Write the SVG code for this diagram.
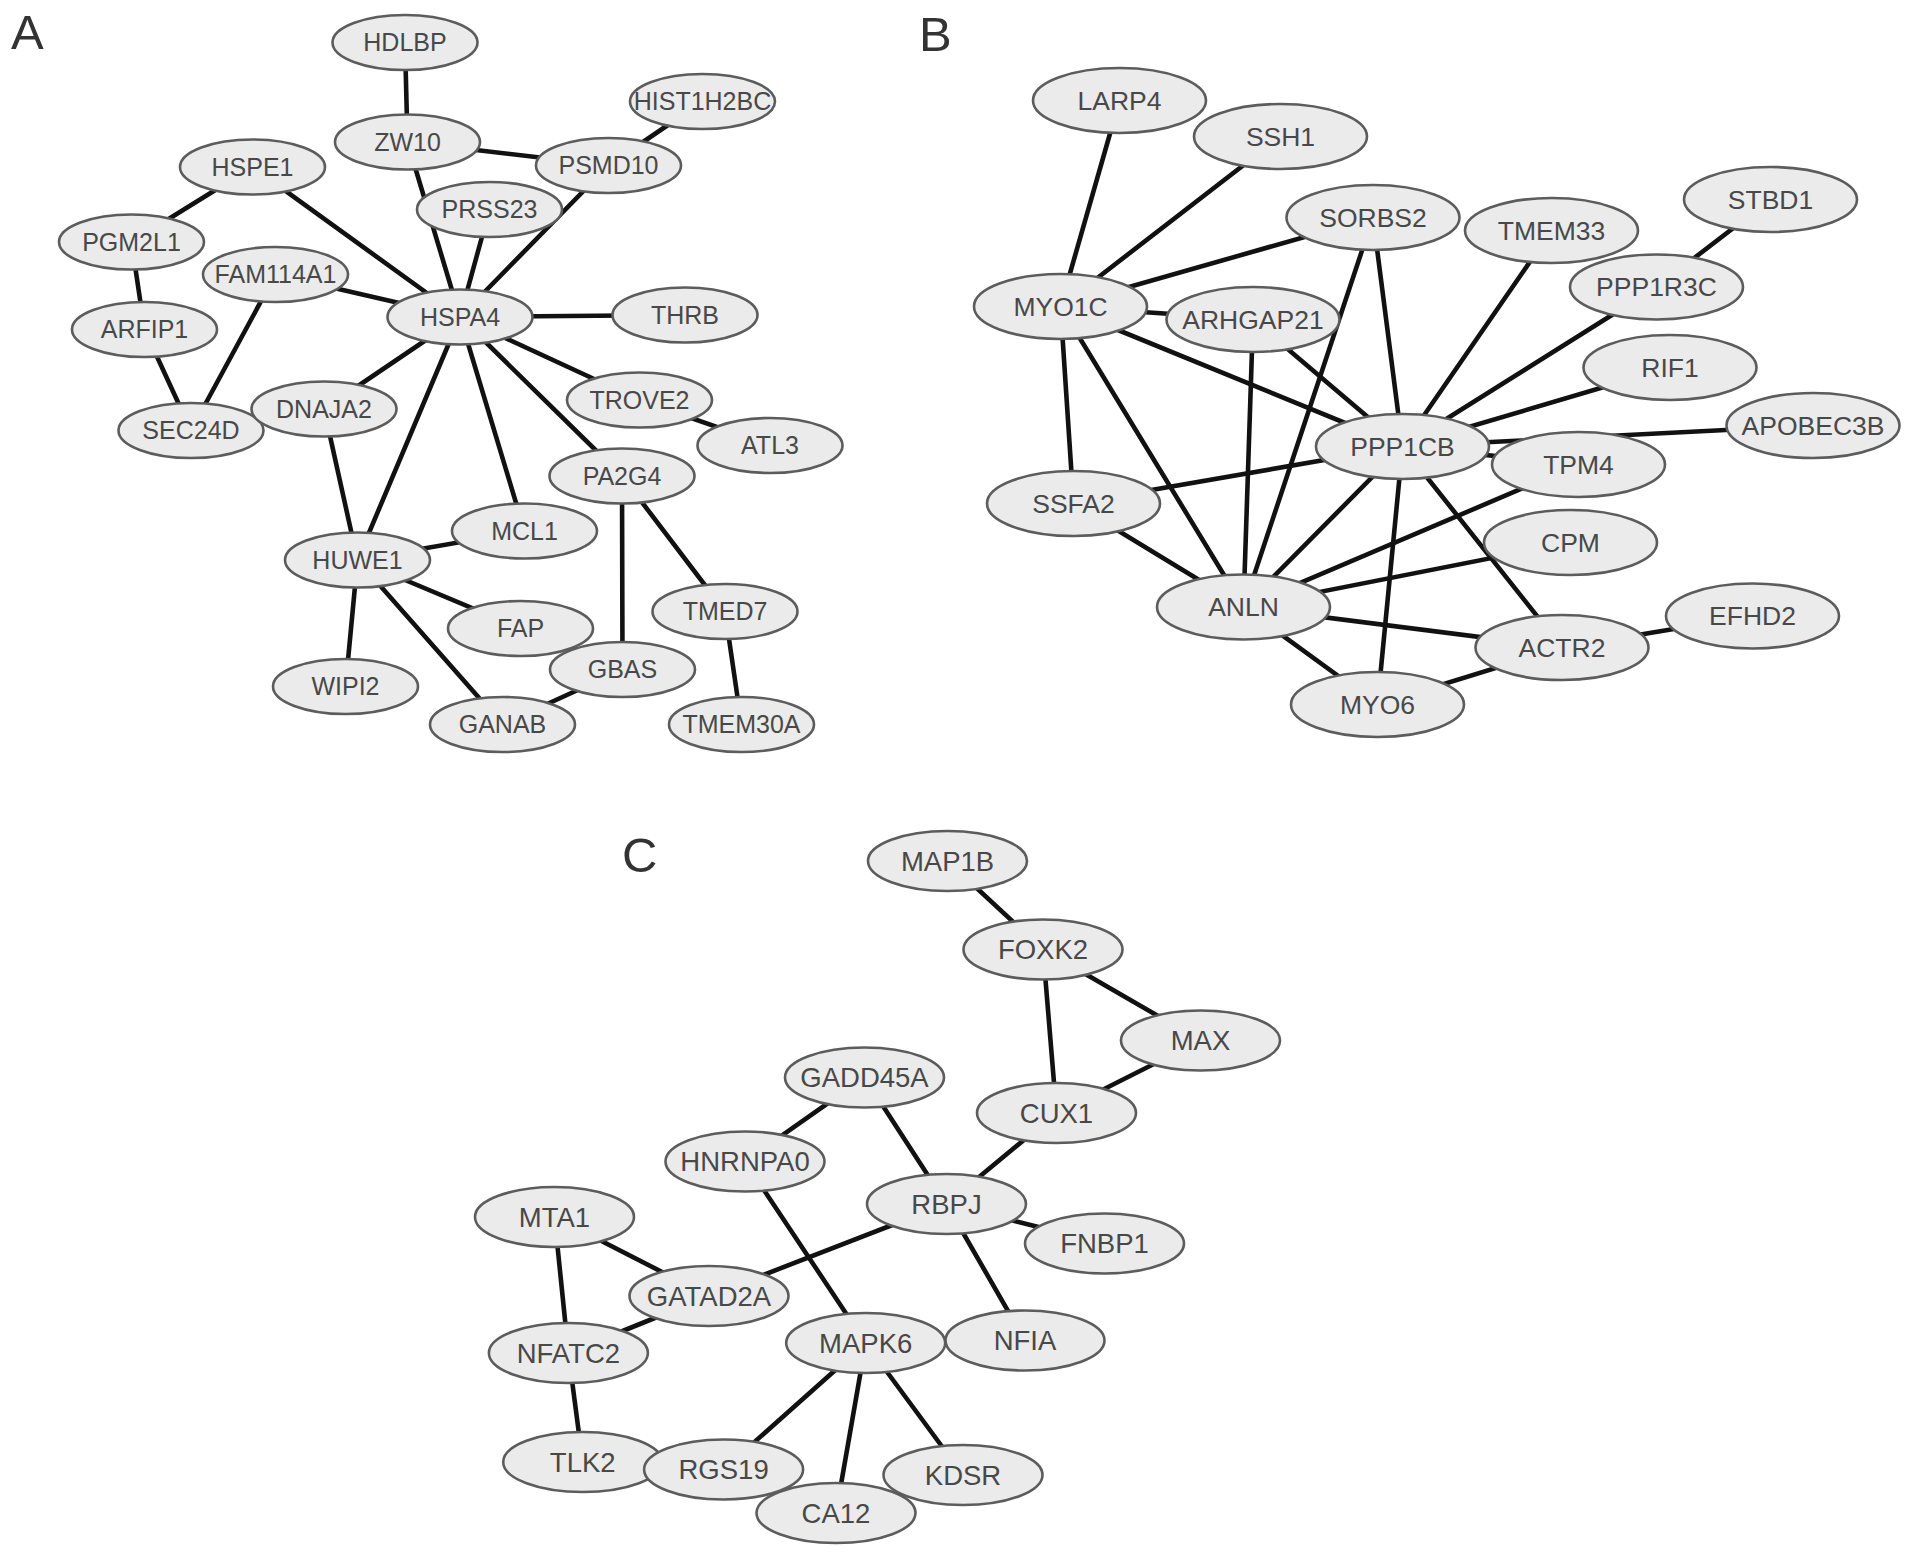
<svg xmlns="http://www.w3.org/2000/svg" width="1913" height="1558" viewBox="0 0 1913 1558">
<style>
.bg{fill:#ffffff}
.e line{stroke:#111111;stroke-width:4.6;stroke-linecap:round}
.n ellipse{fill:#ebebeb;stroke:#5c5c5c;stroke-width:2.6}
.n text{font-family:"Liberation Sans",Arial,sans-serif;fill:#484848;text-anchor:middle}
.a text{font-size:25px}
.b text{font-size:26.5px}
.c text{font-size:27.5px}
.lbl{font-family:"Liberation Sans",Arial,sans-serif;fill:#333333;font-size:49px}
</style>
<rect class="bg" x="0" y="0" width="1913" height="1558"/>
<text class="lbl" x="11" y="49">A</text>
<text class="lbl" x="919" y="51">B</text>
<text class="lbl" x="622" y="872">C</text>

<g id="connectors" class="e">
<!-- Panel A -->
<line x1="405" y1="42.5" x2="407.5" y2="142"/>
<line x1="407.5" y1="142" x2="608.5" y2="165.5"/>
<line x1="407.5" y1="142" x2="460" y2="317"/>
<line x1="608.5" y1="165.5" x2="702.5" y2="101.5"/>
<line x1="608.5" y1="165.5" x2="460" y2="317"/>
<line x1="489.5" y1="209.5" x2="460" y2="317"/>
<line x1="252.5" y1="167" x2="131.5" y2="242"/>
<line x1="252.5" y1="167" x2="460" y2="317"/>
<line x1="131.5" y1="242" x2="144.5" y2="329.5"/>
<line x1="275.5" y1="274.5" x2="460" y2="317"/>
<line x1="275.5" y1="274.5" x2="191" y2="430.5"/>
<line x1="144.5" y1="329.5" x2="191" y2="430.5"/>
<line x1="460" y1="317" x2="685" y2="315"/>
<line x1="460" y1="317" x2="324" y2="409"/>
<line x1="460" y1="317" x2="357.5" y2="560"/>
<line x1="460" y1="317" x2="524.5" y2="531"/>
<line x1="460" y1="317" x2="622" y2="476"/>
<line x1="460" y1="317" x2="639.5" y2="400"/>
<line x1="639.5" y1="400" x2="770" y2="445.5"/>
<line x1="324" y1="409" x2="357.5" y2="560"/>
<line x1="357.5" y1="560" x2="524.5" y2="531"/>
<line x1="357.5" y1="560" x2="520.5" y2="628.5"/>
<line x1="357.5" y1="560" x2="345.5" y2="686.5"/>
<line x1="357.5" y1="560" x2="502.5" y2="724.5"/>
<line x1="502.5" y1="724.5" x2="622.5" y2="669.5"/>
<line x1="622" y1="476" x2="622.5" y2="669.5"/>
<line x1="622" y1="476" x2="725" y2="611.5"/>
<line x1="725" y1="611.5" x2="741.5" y2="724.5"/>
<!-- Panel B -->
<line x1="1119.5" y1="100.5" x2="1060.5" y2="306.5"/>
<line x1="1280.5" y1="136.5" x2="1060.5" y2="306.5"/>
<line x1="1373" y1="217.5" x2="1060.5" y2="306.5"/>
<line x1="1060.5" y1="306.5" x2="1253" y2="319.5"/>
<line x1="1060.5" y1="306.5" x2="1402.5" y2="446.5"/>
<line x1="1060.5" y1="306.5" x2="1073.5" y2="503.5"/>
<line x1="1060.5" y1="306.5" x2="1243.5" y2="607"/>
<line x1="1253" y1="319.5" x2="1243.5" y2="607"/>
<line x1="1253" y1="319.5" x2="1402.5" y2="446.5"/>
<line x1="1373" y1="217.5" x2="1243.5" y2="607"/>
<line x1="1373" y1="217.5" x2="1402.5" y2="446.5"/>
<line x1="1551.5" y1="230.5" x2="1402.5" y2="446.5"/>
<line x1="1656.5" y1="287" x2="1402.5" y2="446.5"/>
<line x1="1770.5" y1="199.5" x2="1656.5" y2="287"/>
<line x1="1670" y1="367.5" x2="1402.5" y2="446.5"/>
<line x1="1813" y1="425.5" x2="1402.5" y2="446.5"/>
<line x1="1578.5" y1="464.5" x2="1402.5" y2="446.5"/>
<line x1="1402.5" y1="446.5" x2="1073.5" y2="503.5"/>
<line x1="1402.5" y1="446.5" x2="1243.5" y2="607"/>
<line x1="1402.5" y1="446.5" x2="1377.5" y2="704.5"/>
<line x1="1402.5" y1="446.5" x2="1562" y2="647.5"/>
<line x1="1243.5" y1="607" x2="1578.5" y2="464.5"/>
<line x1="1243.5" y1="607" x2="1570.5" y2="542.5"/>
<line x1="1243.5" y1="607" x2="1562" y2="647.5"/>
<line x1="1243.5" y1="607" x2="1377.5" y2="704.5"/>
<line x1="1243.5" y1="607" x2="1073.5" y2="503.5"/>
<line x1="1377.5" y1="704.5" x2="1562" y2="647.5"/>
<line x1="1562" y1="647.5" x2="1752.5" y2="616"/>
<!-- Panel C -->
<line x1="947.5" y1="861" x2="1043" y2="949.5"/>
<line x1="1043" y1="949.5" x2="1056.5" y2="1113"/>
<line x1="1043" y1="949.5" x2="1200.5" y2="1040.5"/>
<line x1="1200.5" y1="1040.5" x2="1056.5" y2="1113"/>
<line x1="1056.5" y1="1113" x2="946.5" y2="1204"/>
<line x1="864.5" y1="1077.5" x2="946.5" y2="1204"/>
<line x1="864.5" y1="1077.5" x2="745" y2="1161.5"/>
<line x1="745" y1="1161.5" x2="865.7" y2="1343"/>
<line x1="946.5" y1="1204" x2="709" y2="1296"/>
<line x1="946.5" y1="1204" x2="1104.5" y2="1243.5"/>
<line x1="946.5" y1="1204" x2="1025" y2="1340.5"/>
<line x1="554.5" y1="1217" x2="709" y2="1296"/>
<line x1="554.5" y1="1217" x2="568.4" y2="1353"/>
<line x1="709" y1="1296" x2="568.4" y2="1353"/>
<line x1="568.4" y1="1353" x2="582.7" y2="1462"/>
<line x1="865.7" y1="1343" x2="723.6" y2="1469.5"/>
<line x1="865.7" y1="1343" x2="836" y2="1513"/>
<line x1="865.7" y1="1343" x2="963" y2="1475"/>
</g>

<!-- Panel A nodes -->
<g id="HDLBP" class="n a"><ellipse cx="405" cy="42.5" rx="72.5" ry="27.5"/><text x="405" y="51.3">HDLBP</text></g>
<g id="ZW10" class="n a"><ellipse cx="407.5" cy="142" rx="72.5" ry="27.5"/><text x="407.5" y="150.8">ZW10</text></g>
<g id="HSPE1" class="n a"><ellipse cx="252.5" cy="167" rx="72.5" ry="27.5"/><text x="252.5" y="175.8">HSPE1</text></g>
<g id="PGM2L1" class="n a"><ellipse cx="131.5" cy="242" rx="72.5" ry="27.5"/><text x="131.5" y="250.8">PGM2L1</text></g>
<g id="FAM114A1" class="n a"><ellipse cx="275.5" cy="274.5" rx="72.5" ry="27.5"/><text x="275.5" y="283.3">FAM114A1</text></g>
<g id="ARFIP1" class="n a"><ellipse cx="144.5" cy="329.5" rx="72.5" ry="27.5"/><text x="144.5" y="338.3">ARFIP1</text></g>
<g id="PRSS23" class="n a"><ellipse cx="489.5" cy="209.5" rx="72.5" ry="27.5"/><text x="489.5" y="218.3">PRSS23</text></g>
<g id="PSMD10" class="n a"><ellipse cx="608.5" cy="165.5" rx="72.5" ry="27.5"/><text x="608.5" y="174.3">PSMD10</text></g>
<g id="HIST1H2BC" class="n a"><ellipse cx="702.5" cy="101.5" rx="72.5" ry="27.5"/><text x="702.5" y="110.3">HIST1H2BC</text></g>
<g id="HSPA4" class="n a"><ellipse cx="460" cy="317" rx="72.5" ry="27.5"/><text x="460" y="325.8">HSPA4</text></g>
<g id="THRB" class="n a"><ellipse cx="685" cy="315" rx="72.5" ry="27.5"/><text x="685" y="323.8">THRB</text></g>
<g id="TROVE2" class="n a"><ellipse cx="639.5" cy="400" rx="72.5" ry="27.5"/><text x="639.5" y="408.8">TROVE2</text></g>
<g id="ATL3" class="n a"><ellipse cx="770" cy="445.5" rx="72.5" ry="27.5"/><text x="770" y="454.3">ATL3</text></g>
<g id="SEC24D" class="n a"><ellipse cx="191" cy="430.5" rx="72.5" ry="27.5"/><text x="191" y="439.3">SEC24D</text></g>
<g id="DNAJA2" class="n a"><ellipse cx="324" cy="409" rx="72.5" ry="27.5"/><text x="324" y="417.8">DNAJA2</text></g>
<g id="PA2G4" class="n a"><ellipse cx="622" cy="476" rx="72.5" ry="27.5"/><text x="622" y="484.8">PA2G4</text></g>
<g id="MCL1" class="n a"><ellipse cx="524.5" cy="531" rx="72.5" ry="27.5"/><text x="524.5" y="539.8">MCL1</text></g>
<g id="HUWE1" class="n a"><ellipse cx="357.5" cy="560" rx="72.5" ry="27.5"/><text x="357.5" y="568.8">HUWE1</text></g>
<g id="TMED7" class="n a"><ellipse cx="725" cy="611.5" rx="72.5" ry="27.5"/><text x="725" y="620.3">TMED7</text></g>
<g id="FAP" class="n a"><ellipse cx="520.5" cy="628.5" rx="72.5" ry="27.5"/><text x="520.5" y="637.3">FAP</text></g>
<g id="GBAS" class="n a"><ellipse cx="622.5" cy="669.5" rx="72.5" ry="27.5"/><text x="622.5" y="678.3">GBAS</text></g>
<g id="WIPI2" class="n a"><ellipse cx="345.5" cy="686.5" rx="72.5" ry="27.5"/><text x="345.5" y="695.3">WIPI2</text></g>
<g id="GANAB" class="n a"><ellipse cx="502.5" cy="724.5" rx="72.5" ry="27.5"/><text x="502.5" y="733.3">GANAB</text></g>
<g id="TMEM30A" class="n a"><ellipse cx="741.5" cy="724.5" rx="72.5" ry="27.5"/><text x="741.5" y="733.3">TMEM30A</text></g>

<!-- Panel B nodes -->
<g id="LARP4" class="n b"><ellipse cx="1119.5" cy="100.5" rx="86.5" ry="32.5"/><text x="1119.5" y="109.8">LARP4</text></g>
<g id="SSH1" class="n b"><ellipse cx="1280.5" cy="136.5" rx="86.5" ry="32.5"/><text x="1280.5" y="145.8">SSH1</text></g>
<g id="SORBS2" class="n b"><ellipse cx="1373" cy="217.5" rx="86.5" ry="32.5"/><text x="1373" y="226.8">SORBS2</text></g>
<g id="TMEM33" class="n b"><ellipse cx="1551.5" cy="230.5" rx="86.5" ry="32.5"/><text x="1551.5" y="239.8">TMEM33</text></g>
<g id="STBD1" class="n b"><ellipse cx="1770.5" cy="199.5" rx="86.5" ry="32.5"/><text x="1770.5" y="208.8">STBD1</text></g>
<g id="PPP1R3C" class="n b"><ellipse cx="1656.5" cy="287" rx="86.5" ry="32.5"/><text x="1656.5" y="296.3">PPP1R3C</text></g>
<g id="MYO1C" class="n b"><ellipse cx="1060.5" cy="306.5" rx="86.5" ry="32.5"/><text x="1060.5" y="315.8">MYO1C</text></g>
<g id="ARHGAP21" class="n b"><ellipse cx="1253" cy="319.5" rx="86.5" ry="32.5"/><text x="1253" y="328.8">ARHGAP21</text></g>
<g id="RIF1" class="n b"><ellipse cx="1670" cy="367.5" rx="86.5" ry="32.5"/><text x="1670" y="376.8">RIF1</text></g>
<g id="APOBEC3B" class="n b"><ellipse cx="1813" cy="425.5" rx="86.5" ry="32.5"/><text x="1813" y="434.8">APOBEC3B</text></g>
<g id="PPP1CB" class="n b"><ellipse cx="1402.5" cy="446.5" rx="86.5" ry="32.5"/><text x="1402.5" y="455.8">PPP1CB</text></g>
<g id="TPM4" class="n b"><ellipse cx="1578.5" cy="464.5" rx="86.5" ry="32.5"/><text x="1578.5" y="473.8">TPM4</text></g>
<g id="SSFA2" class="n b"><ellipse cx="1073.5" cy="503.5" rx="86.5" ry="32.5"/><text x="1073.5" y="512.8">SSFA2</text></g>
<g id="CPM" class="n b"><ellipse cx="1570.5" cy="542.5" rx="86.5" ry="32.5"/><text x="1570.5" y="551.8">CPM</text></g>
<g id="ANLN" class="n b"><ellipse cx="1243.5" cy="607" rx="86.5" ry="32.5"/><text x="1243.5" y="616.3">ANLN</text></g>
<g id="EFHD2" class="n b"><ellipse cx="1752.5" cy="616" rx="86.5" ry="32.5"/><text x="1752.5" y="625.3">EFHD2</text></g>
<g id="ACTR2" class="n b"><ellipse cx="1562" cy="647.5" rx="86.5" ry="32.5"/><text x="1562" y="656.8">ACTR2</text></g>
<g id="MYO6" class="n b"><ellipse cx="1377.5" cy="704.5" rx="86.5" ry="32.5"/><text x="1377.5" y="713.8">MYO6</text></g>

<!-- Panel C nodes -->
<g id="MAP1B" class="n c"><ellipse cx="947.5" cy="861" rx="79.5" ry="30"/><text x="947.5" y="870.6">MAP1B</text></g>
<g id="FOXK2" class="n c"><ellipse cx="1043" cy="949.5" rx="79.5" ry="30"/><text x="1043" y="959.1">FOXK2</text></g>
<g id="MAX" class="n c"><ellipse cx="1200.5" cy="1040.5" rx="79.5" ry="30"/><text x="1200.5" y="1050.1">MAX</text></g>
<g id="GADD45A" class="n c"><ellipse cx="864.5" cy="1077.5" rx="79.5" ry="30"/><text x="864.5" y="1087.1">GADD45A</text></g>
<g id="CUX1" class="n c"><ellipse cx="1056.5" cy="1113" rx="79.5" ry="30"/><text x="1056.5" y="1122.6">CUX1</text></g>
<g id="HNRNPA0" class="n c"><ellipse cx="745" cy="1161.5" rx="79.5" ry="30"/><text x="745" y="1171.1">HNRNPA0</text></g>
<g id="RBPJ" class="n c"><ellipse cx="946.5" cy="1204" rx="79.5" ry="30"/><text x="946.5" y="1213.6">RBPJ</text></g>
<g id="MTA1" class="n c"><ellipse cx="554.5" cy="1217" rx="79.5" ry="30"/><text x="554.5" y="1226.6">MTA1</text></g>
<g id="FNBP1" class="n c"><ellipse cx="1104.5" cy="1243.5" rx="79.5" ry="30"/><text x="1104.5" y="1253.1">FNBP1</text></g>
<g id="GATAD2A" class="n c"><ellipse cx="709" cy="1296" rx="79.5" ry="30"/><text x="709" y="1305.6">GATAD2A</text></g>
<g id="NFIA" class="n c"><ellipse cx="1025" cy="1340.5" rx="79.5" ry="30"/><text x="1025" y="1350.1">NFIA</text></g>
<g id="MAPK6" class="n c"><ellipse cx="865.7" cy="1343" rx="79.5" ry="30"/><text x="865.7" y="1352.6">MAPK6</text></g>
<g id="NFATC2" class="n c"><ellipse cx="568.4" cy="1353" rx="79.5" ry="30"/><text x="568.4" y="1362.6">NFATC2</text></g>
<g id="TLK2" class="n c"><ellipse cx="582.7" cy="1462" rx="79.5" ry="30"/><text x="582.7" y="1471.6">TLK2</text></g>
<g id="KDSR" class="n c"><ellipse cx="963" cy="1475" rx="79.5" ry="30"/><text x="963" y="1484.6">KDSR</text></g>
<g id="CA12" class="n c"><ellipse cx="836" cy="1513" rx="79.5" ry="30"/><text x="836" y="1522.6">CA12</text></g>
<g id="RGS19" class="n c"><ellipse cx="723.6" cy="1469.5" rx="79.5" ry="30"/><text x="723.6" y="1479.1">RGS19</text></g>
</svg>
